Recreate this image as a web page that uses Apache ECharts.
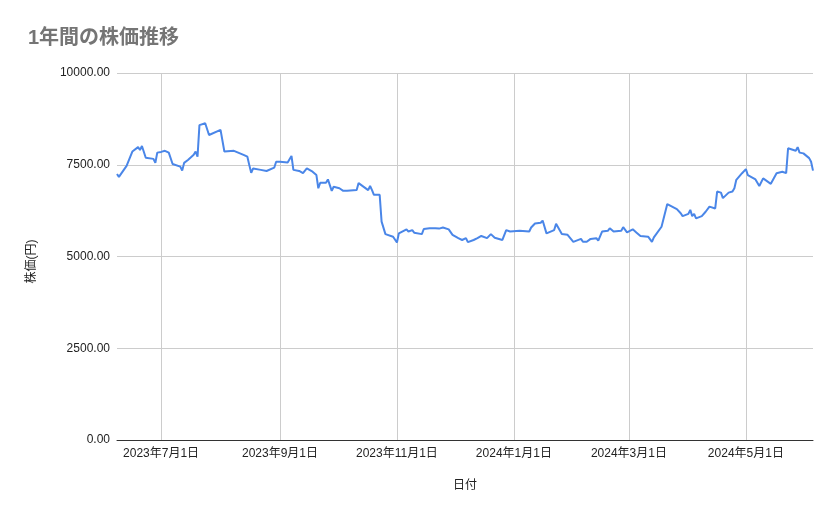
<!DOCTYPE html>
<html>
<head>
<meta charset="utf-8"/>
<title>1年間の株価推移</title>
<script src="https://cdn.jsdelivr.net/npm/echarts@6/dist/echarts.min.js"></script>
<style>
  html, body { margin: 0; padding: 0; background: #fff; }
  #main { width: 839px; height: 519px; }
</style>
</head>
<body>
<div id="main"></div>
<script type="text/javascript">
// 日付（読み取り値）
var dates = [
  '2023-06-08','2023-06-09','2023-06-13','2023-06-16','2023-06-19','2023-06-20','2023-06-21','2023-06-23',
  '2023-06-27','2023-06-28','2023-06-29','2023-06-30','2023-07-01','2023-07-03','2023-07-05','2023-07-07',
  '2023-07-11','2023-07-12','2023-07-13','2023-07-15','2023-07-18','2023-07-19','2023-07-20','2023-07-21',
  '2023-07-24','2023-07-26','2023-07-27','2023-08-01','2023-08-03','2023-08-08','2023-08-09','2023-08-13',
  '2023-08-15','2023-08-16','2023-08-17','2023-08-18','2023-08-22','2023-08-23','2023-08-25','2023-08-29',
  '2023-08-30','2023-09-01','2023-09-05','2023-09-07','2023-09-08','2023-09-11','2023-09-12','2023-09-13',
  '2023-09-15','2023-09-18','2023-09-20','2023-09-21','2023-09-22','2023-09-25','2023-09-26','2023-09-28',
  '2023-09-29','2023-10-02','2023-10-04','2023-10-05','2023-10-06','2023-10-11','2023-10-12','2023-10-13',
  '2023-10-17','2023-10-18','2023-10-19','2023-10-20','2023-10-23','2023-10-24','2023-10-26','2023-10-30',
  '2023-11-01','2023-11-02','2023-11-06','2023-11-07','2023-11-09','2023-11-10','2023-11-14','2023-11-15',
  '2023-11-18','2023-11-21','2023-11-22','2023-11-23','2023-11-25','2023-11-28','2023-11-30','2023-12-03',
  '2023-12-05','2023-12-06','2023-12-07','2023-12-08','2023-12-11','2023-12-13','2023-12-14','2023-12-15',
  '2023-12-18','2023-12-20','2023-12-22','2023-12-26','2023-12-28','2023-12-30','2024-01-04','2024-01-05',
  '2024-01-09','2024-01-10','2024-01-12','2024-01-15','2024-01-16','2024-01-18','2024-01-22','2024-01-23',
  '2024-01-24','2024-01-26','2024-01-29','2024-02-01','2024-02-05','2024-02-06','2024-02-07','2024-02-08',
  '2024-02-10','2024-02-13','2024-02-14','2024-02-16','2024-02-19','2024-02-20','2024-02-22','2024-02-26',
  '2024-02-27','2024-02-29','2024-03-03','2024-03-05','2024-03-07','2024-03-11','2024-03-13','2024-03-14',
  '2024-03-15','2024-03-18','2024-03-21','2024-03-22','2024-03-26','2024-03-28','2024-03-29','2024-04-01',
  '2024-04-02','2024-04-03','2024-04-04','2024-04-05','2024-04-08','2024-04-10','2024-04-12','2024-04-15',
  '2024-04-16','2024-04-18','2024-04-19','2024-04-22','2024-04-24','2024-04-25','2024-04-26','2024-04-29',
  '2024-05-01','2024-05-02','2024-05-06','2024-05-08','2024-05-09','2024-05-10','2024-05-14','2024-05-15',
  '2024-05-17','2024-05-20','2024-05-22','2024-05-23','2024-05-27','2024-05-28','2024-05-29','2024-05-31',
  '2024-06-03','2024-06-04','2024-06-05'
];
// 株価（円）
var prices = [
  7250,7170,7470,7860,7980,7900,8010,7690,
  7660,7550,7830,7880,7850,7880,7830,7520,
  7450,7340,7550,7630,7770,7860,7720,8580,
  8630,8310,8360,8450,7860,7880,7920,7770,
  7720,7490,7280,7400,7360,7400,7330,7420,
  7580,7580,7560,7740,7360,7330,7350,7270,
  7400,7310,7220,6860,7010,7010,7100,6790,
  6900,6860,6790,6840,6790,6810,7000,6970,
  6810,6920,6810,6680,6680,5950,5610,5540,
  5380,5630,5740,5680,5720,5650,5610,5750,
  5770,5770,5800,5760,5790,5740,5590,5500,
  5450,5400,5500,5390,5450,5500,5450,5560,
  5500,5610,5510,5450,5720,5680,5700,5680,
  5680,5790,5900,5920,5980,5630,5720,5890,
  5860,5610,5590,5400,5480,5400,5450,5400,
  5480,5500,5430,5680,5700,5770,5680,5700,
  5800,5660,5740,5650,5560,5540,5400,5520,
  5520,5810,6430,6380,6290,6180,6100,6160,
  6270,6100,6160,6040,6100,6220,6360,6310,
  6770,6740,6590,6740,6770,6860,7090,7270,
  7380,7220,7100,6920,6950,7130,6980,6950,
  7270,7310,7270,7950,7880,7980,7830,7810,
  7680,7580,7340
];
// 目盛り
var tickDates = ['2023-07-01','2023-09-01','2023-11-01','2024-01-01','2024-03-01','2024-05-01'];
var xMin = '2023-06-08';
var xMax = '2024-06-05';

function toTime(s) {
  var p = s.split('-');
  return new Date(+p[0], +p[1] - 1, +p[2]).getTime();
}

var seriesData = [];
for (var i = 0; i < dates.length; i++) {
  seriesData.push([toTime(dates[i]), prices[i]]);
}
var tickValues = tickDates.map(toTime);

var font = "'Liberation Sans', 'Noto Sans CJK JP', sans-serif";
var myChart = echarts.init(document.getElementById('main'));
var option = {
  animation: false,
  textStyle: { fontFamily: font },
  title: {
    text: '1年間の株価推移',
    left: 28,
    top: 28,
    padding: 0,
    textStyle: { color: '#757575', fontSize: 20, fontWeight: 'bold', fontFamily: font }
  },
  grid: { left: 117, right: 26, top: 73, bottom: 79, containLabel: false },
  xAxis: {
    // 日付はタイムスタンプとして数値軸に置く（目盛りは2か月ごと）
    type: 'value',
    min: toTime(xMin),
    max: toTime(xMax),
    name: '日付',
    nameLocation: 'middle',
    nameGap: 40,
    nameTextStyle: { color: '#222', fontSize: 12 },
    axisLine: { show: true, onZero: false, lineStyle: { color: '#333', width: 1 } },
    axisTick: { show: false, customValues: tickValues },
    axisLabel: {
      customValues: tickValues,
      color: '#222',
      fontSize: 12,
      margin: 8,
      formatter: function (v) {
        var d = new Date(v);
        return d.getFullYear() + '年' + (d.getMonth() + 1) + '月' + d.getDate() + '日';
      }
    },
    splitLine: { show: true, lineStyle: { color: '#cccccc', width: 1 } }
  },
  yAxis: {
    type: 'value',
    min: 0,
    max: 10000,
    interval: 2500,
    name: '株価(円)',
    nameLocation: 'middle',
    nameGap: 79,
    nameTextStyle: { color: '#222', fontSize: 12, padding: [0, 10, 0, 0] },
    axisLine: { show: false },
    axisTick: { show: false },
    axisLabel: {
      color: '#222',
      fontSize: 12,
      margin: 7,
      formatter: function (v) { return v.toFixed(2); }
    },
    splitLine: { show: true, lineStyle: { color: '#cccccc', width: 1 } }
  },
  series: [{
    name: '株価',
    type: 'line',
    data: seriesData,
    showSymbol: false,
    lineStyle: { color: '#4a86e8', width: 2 },
    itemStyle: { color: '#4a86e8' }
  }]
};
myChart.setOption(option);
</script>
</body>
</html>
